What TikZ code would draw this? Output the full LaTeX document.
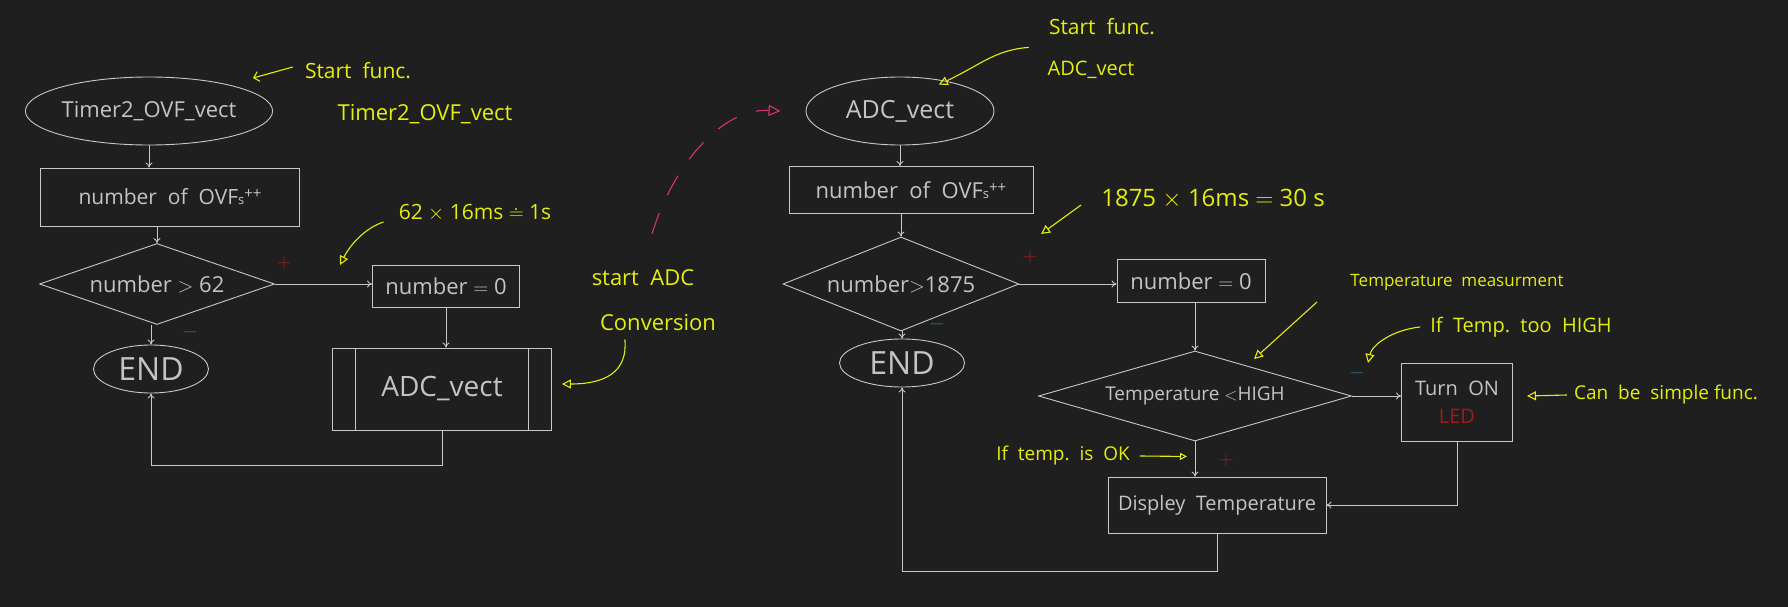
\documentclass[tikz,border=0pt]{standalone}
\usepackage{fontspec}
\setmainfont{Open Sans}
\usetikzlibrary{shapes.geometric,arrows.meta,calc}
\definecolor{bg}{HTML}{1F1F1F}
\definecolor{linec}{HTML}{C8C8C8}
\definecolor{txtc}{HTML}{C4C4C4}
\definecolor{ylw}{HTML}{E4EE10}
\definecolor{redm}{HTML}{A01C1C}
\definecolor{bluem}{HTML}{1F6E8C}
\definecolor{pinkm}{HTML}{D8307A}
\newcommand{\fs}[1]{\fontsize{#1}{#1}\selectfont}
\newcommand{\ovfs}{OVF{\fs{13}s}\raisebox{6pt}{\fs{15}++}}
\begin{document}
\begin{tikzpicture}[x=1pt,y=-1pt,
  base/.style={draw=linec, line width=0.9pt, text=txtc, inner sep=0pt, font=\fs{22}},
  proc/.style={base, rectangle},
  term/.style={base, ellipse},
  dec/.style={base, diamond},
  flow/.style={draw=linec, line width=0.9pt, -{To[length=5pt,width=7pt]}},
  line/.style={draw=linec, line width=0.9pt},
  note/.style={text=ylw, font=\fs{19}, inner sep=0pt},
  notearrow/.style={draw=ylw, line width=1.1pt, -{Triangle[open,length=9pt,width=9pt]}},
  plus/.style={text=redm, font=\fs{22}, inner sep=0pt},
  minus/.style={text=bluem, font=\fs{22}, inner sep=0pt}]
\useasboundingbox (0,0) rectangle (1788,607);
\fill[bg] (0,0) rectangle (1788,607);

% ---------------- left flowchart ----------------
\node[term, minimum width=228pt, minimum height=68pt] (t2) at (149,111) {Timer2\_OVF\_vect};
\node[proc, minimum width=259pt, minimum height=58pt, font=\fs{21}] (r1) at (170,197) {number\ \ of\ \ \ovfs};
\node[dec, aspect=2.9, minimum width=235pt, minimum height=81pt] (d1) at (157,284) {number $>$ 62};
\node[proc, minimum width=147pt, minimum height=42pt] (z1) at (446,286) {number $=$ 0};
\node[term, minimum width=115pt, minimum height=48pt, font=\fs{32}] (e1) at (151,369) {END};
\node[proc, minimum width=219pt, minimum height=82pt, font=\fs{28}] (a1) at (442,389) {ADC\_vect};
\draw[line] ($(a1.north west)+(23,0)$) -- ($(a1.south west)+(23,0)$);
\draw[line] ($(a1.north east)+(-24,0)$) -- ($(a1.south east)+(-24,0)$);

\draw[flow] (t2.south) -- (t2.south |- r1.north);
\draw[flow] (d1.north |- r1.south) -- (d1.north);
\draw[flow] (d1.east) -- (d1.east -| z1.west);
\draw[flow] (e1.north |- d1.south) -- (e1.north);
\draw[flow] (z1.south) -- (z1.south |- a1.north);
\draw[flow] (a1.south) -- ++(0,35) -| (e1.south);

\node[plus] (p1) at (284,263) {$+$};
\node[minus] (m1) at (190,332) {$-$};

% left annotations
\node[note, font=\fs{21}] (sf1) at (358,71) {Start\ \ func.};
\coordinate (sf1a) at (253,78);
\draw[draw=ylw, line width=1.1pt, -{Straight Barb[length=5pt]}] ($(sf1.west)+(-12,-4)$) -- (sf1a);
\node[note, font=\fs{22}] (tv) at (425,114) {Timer2\_OVF\_vect};
\node[note, font=\fs{21}] (n62) at (475,213) {62 $\times$ 16ms $\doteq$ 1s};
\coordinate (n62a) at (340,265);
\draw[notearrow] ($(n62.west)+(-15,9)$) .. controls (365,228) and (350,245) .. (n62a);
\node[note, font=\fs{22}] (sadc) at (643,278) {start\ \ ADC};
\node[note, font=\fs{22}] (conv) at (658,323) {Conversion};
\draw[notearrow] ($(conv.south west)+(25,8)$) .. controls (628,372) and (605,384) .. ($(a1.east)+(10,-5)$);

% ---------------- right flowchart ----------------
\node[term, minimum width=188pt, minimum height=68pt, font=\fs{25}] (e2) at (900,111) {ADC\_vect};
\node[proc, minimum width=244pt, minimum height=47pt, font=\fs{22}] (r2) at (911,190) {number\ \ of\ \ \ovfs};
\node[dec, aspect=2.5, minimum width=236pt, minimum height=94pt] (d2) at (901,284) {number$>$1875};
\node[proc, minimum width=148pt, minimum height=43pt] (z2) at (1191,281) {number $=$ 0};
\node[term, minimum width=125pt, minimum height=48pt, font=\fs{32}] (e3) at (902,363) {END};
\node[dec, aspect=3.48, minimum width=313pt, minimum height=90pt, font=\fs{19}] (d3) at (1195,396) {Temperature $<$HIGH};
\node[proc, minimum width=111pt, minimum height=78pt, align=center, font=\fs{20}] (led) at (1457,402) {Turn\ \ ON\\[8pt]\textcolor{redm}{LED}};
\node[proc, minimum width=218pt, minimum height=56pt, font=\fs{20}] (disp) at (1217,505) {Displey\ \ Temperature};

% pink dashed link
\coordinate (pk) at (652,234);
\draw[draw=pinkm, line width=1.1pt, dash pattern=on 22pt off 20pt, -{Triangle[open,length=12pt,width=11pt]}]
  (pk) .. controls (672,168) and (720,108) .. ($(e2.west)+(-25,0)$);

\draw[flow] (e2.south) -- (e2.south |- r2.north);
\draw[flow] (d2.north |- r2.south) -- (d2.north);
\draw[flow] (d2.east) -- (d2.east -| z2.west);
\draw[flow] (e3.north |- d2.south) -- (e3.north);
\draw[flow] (d3.north |- z2.south) -- (d3.north);
\draw[flow] (d3.east) -- (d3.east -| led.west);
\draw[flow] (d3.south) -- (d3.south |- disp.north);
\draw[flow] (led.south) |- (disp.east);
\draw[flow] (disp.south) -- ++(0,38) -| (e3.south);

\node[plus] (p2) at (1030,257) {$+$};
\node[plus] (p3) at (1226,460) {$+$};
\node[minus] (m2) at (937,324) {$-$};
\node[minus] (m3) at (1357,373) {$-$};

% right annotations
\node[note, font=\fs{21}] (sf2) at (1102,27) {Start\ \ func.};
\node[note, font=\fs{20}] (av) at (1091,70) {ADC\_vect};
\draw[notearrow] ($(sf2.south west)+(-20,12)$) .. controls (995,50) and (982,64) .. ($(e2.north east)+(-28,-2)$);
\node[note, font=\fs{24}] (n1875) at (1213,199) {1875 $\times$ 16ms $=$ 30 s};
\draw[notearrow] ($(n1875.west)+(-20,6)$) -- (1041,234);
\node[note, font=\fs{17}] (tm) at (1457,282) {Temperature\ \ measurment};
\coordinate (tma) at (1317,302);
\draw[notearrow] (tma) -- (1254,359);
\node[note, font=\fs{20}] (hi) at (1521,327) {If\ \ Temp.\ \ too\ \ HIGH};
\draw[notearrow] ($(hi.west)+(-10,0)$) .. controls (1392,330) and (1372,345) .. (1368,363);
\node[note] (cs) at (1666,395) {Can\ \ be\ \ simple func.};
\draw[notearrow] ($(cs.west)+(-7,0)$) -- ($(led.east)+(14,-6)$);
\node[note] (ok) at (1063,456) {If\ \ temp.\ \ is\ \ OK};
\draw[draw=ylw, line width=1.1pt, -{Triangle[open,length=7pt,width=7pt]}] ($(ok.east)+(10,0)$) -- ($(d3.south)+(-8,15)$);
\end{tikzpicture}
\end{document}
